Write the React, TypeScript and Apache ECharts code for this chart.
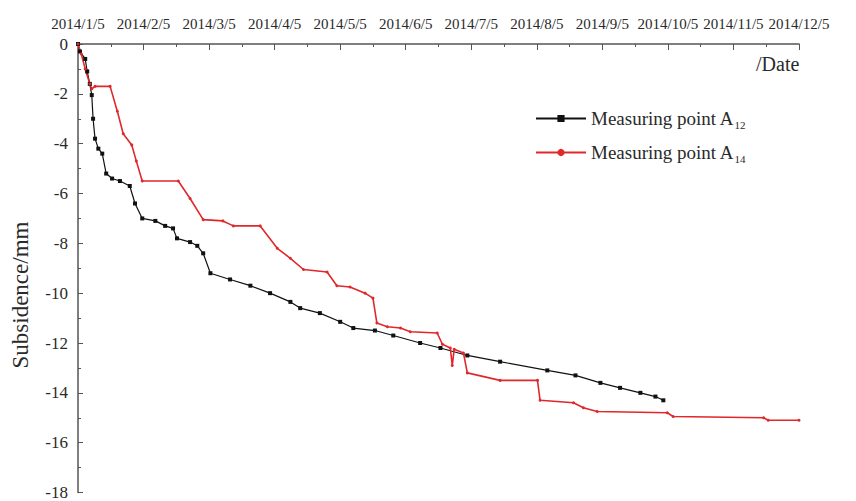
import React, { useEffect, useRef } from 'react';
import * as echarts from 'echarts';

// x values are months elapsed since 2014/1/5 (0 = 2014/1/5, 11 = 2014/12/5)
const MONTH_LABELS = [
  '2014/1/5', '2014/2/5', '2014/3/5', '2014/4/5', '2014/5/5', '2014/6/5',
  '2014/7/5', '2014/8/5', '2014/9/5', '2014/10/5', '2014/11/5', '2014/12/5',
];

const A12_MONTH = [
  0.0, 0.03, 0.11, 0.14, 0.18, 0.21, 0.23, 0.26, 0.31, 0.37, 0.43, 0.52, 0.64, 0.79, 0.87, 0.98,
  1.18, 1.33, 1.45, 1.51, 1.71, 1.82, 1.91, 2.02, 2.32, 2.63, 2.93, 3.24, 3.39, 3.69, 4.0, 4.2,
  4.53, 4.81, 5.22, 5.53, 5.94, 6.44, 7.16, 7.59, 7.97, 8.27, 8.58, 8.81, 8.93,
];
const A12_VALUE = [
  0, -0.3, -0.6, -1.1, -1.6, -2.05, -3.0, -3.8, -4.2, -4.4, -5.2, -5.4, -5.5, -5.7, -6.4, -7.0,
  -7.1, -7.3, -7.4, -7.8, -7.95, -8.1, -8.4, -9.2, -9.45, -9.7, -10.0, -10.35, -10.6, -10.8, -11.15, -11.4,
  -11.5, -11.7, -12.0, -12.2, -12.5, -12.75, -13.1, -13.3, -13.6, -13.8, -14.0, -14.15, -14.3,
];

const A14_MONTH = [
  0.0, 0.05, 0.11, 0.18, 0.21, 0.26, 0.49, 0.6, 0.69, 0.82, 0.89, 0.98, 1.53, 1.71, 1.91, 2.21,
  2.37, 2.78, 3.04, 3.24, 3.44, 3.8, 3.95, 4.15, 4.38, 4.5, 4.56, 4.72, 4.92, 5.07, 5.48, 5.56,
  5.68, 5.71, 5.74, 5.88, 5.94, 6.44, 7.01, 7.05, 7.56, 7.71, 7.92, 8.99, 9.08, 10.46, 10.53, 11.0,
];
const A14_VALUE = [
  0, -0.4, -1.0, -1.6, -1.8, -1.7, -1.7, -2.7, -3.6, -4.05, -4.7, -5.5, -5.5, -6.2, -7.05, -7.1,
  -7.3, -7.3, -8.2, -8.6, -9.05, -9.15, -9.7, -9.75, -10.0, -10.2, -11.2, -11.35, -11.4, -11.55, -11.6, -12.05,
  -12.2, -12.9, -12.25, -12.4, -13.2, -13.5, -13.5, -14.3, -14.4, -14.6, -14.75, -14.8, -14.95, -15.0, -15.1, -15.1,
];

const SERIES_NAMES = ['Measuring point A12', 'Measuring point A14'];
const Y_MIN = -18;
const Y_MAX = 0;
const Y_STEP = 2;

const FONT = 'Liberation Serif';
const TEXT = '#2a2a2a';
const AXIS = '#555';

export default function App() {
  const ref = useRef<HTMLDivElement>(null);

  useEffect(() => {
    if (!ref.current) return;
    const chart = echarts.init(ref.current, null, { renderer: 'svg' });
    const zip = (xs: number[], ys: number[]) => xs.map((x, i) => [x, ys[i]]);

    chart.setOption({
      animation: false,
      backgroundColor: '#fff',
      textStyle: { fontFamily: FONT },
      grid: { left: 78, right: 57, top: 44, bottom: 2 },
      xAxis: {
        type: 'value',
        position: 'top',
        min: 0,
        max: MONTH_LABELS.length - 1,
        interval: 1,
        axisLine: { show: true, lineStyle: { color: AXIS, width: 1.5 } },
        axisTick: { show: true, inside: true, length: 6, lineStyle: { color: AXIS } },
        minorTick: { show: true, splitNumber: 2, length: 3, lineStyle: { color: AXIS } },
        splitLine: { show: false },
        axisLabel: {
          show: true,
          margin: 13,
          fontSize: 15,
          fontFamily: FONT,
          color: TEXT,
          hideOverlap: false,
          formatter: (v: number) => MONTH_LABELS[Math.round(v)] ?? '',
        },
      },
      yAxis: {
        type: 'value',
        min: Y_MIN,
        max: Y_MAX,
        interval: Y_STEP,
        axisLine: { show: true, onZero: false, lineStyle: { color: AXIS, width: 1.5 } },
        axisTick: { show: true, inside: true, length: 5, lineStyle: { color: AXIS } },
        minorTick: { show: true, splitNumber: 2, length: 3, lineStyle: { color: AXIS } },
        splitLine: { show: false },
        axisLabel: { margin: 10, fontSize: 17, fontFamily: FONT, color: TEXT },
      },
      legend: {
        orient: 'vertical',
        left: 530,
        top: 104,
        itemWidth: 50,
        itemHeight: 9,
        itemGap: 13,
        data: SERIES_NAMES,
        formatter: (name: string) => {
          const m = name.match(/^(.*A)(\d+)$/);
          return m ? `${m[1]}{sub|${m[2]}}` : name;
        },
        textStyle: {
          fontFamily: FONT,
          fontSize: 19,
          color: TEXT,
          rich: {
            sub: { fontFamily: FONT, fontSize: 11, color: TEXT, padding: [12, 0, 0, 0] },
          },
        },
      },
      graphic: [
        {
          type: 'text',
          left: 756,
          top: 54,
          style: { text: '/Date', font: `20px ${FONT}`, fill: TEXT },
        },
        {
          type: 'text',
          x: 20,
          y: 295,
          rotation: Math.PI / 2,
          style: {
            text: 'Subsidence/mm',
            font: `23px ${FONT}`,
            fill: TEXT,
            align: 'center',
            verticalAlign: 'middle',
          },
        },
      ],
      series: [
        {
          name: SERIES_NAMES[0],
          type: 'line',
          data: zip(A12_MONTH, A12_VALUE),
          symbol: 'rect',
          symbolSize: 4,
          showSymbol: true,
          lineStyle: { color: '#111', width: 1.2 },
          itemStyle: { color: '#111' },
        },
        {
          name: SERIES_NAMES[1],
          type: 'line',
          data: zip(A14_MONTH, A14_VALUE),
          symbol: 'circle',
          symbolSize: 3,
          showSymbol: true,
          lineStyle: { color: '#e0282a', width: 1.6 },
          itemStyle: { color: '#e0282a' },
        },
      ],
    });

    return () => chart.dispose();
  }, []);

  return (
    <div
      ref={ref}
      style={{ position: 'fixed', left: 0, top: 0, width: 856, height: 501, background: '#fff' }}
    />
  );
}
